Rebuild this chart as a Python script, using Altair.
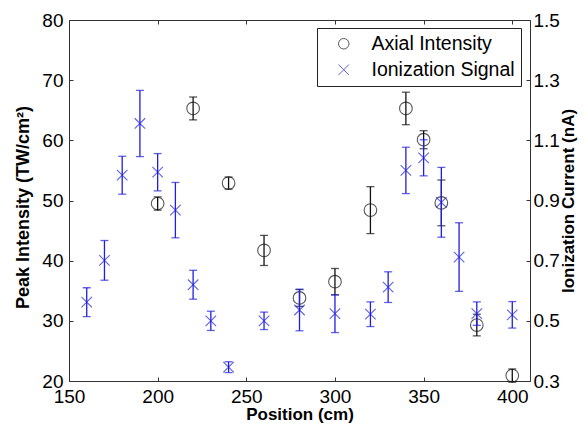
import altair as alt
import pandas as pd

# ---- data ----
axial_pos = [200, 220, 240, 260, 280, 300, 320, 340, 350, 360, 380, 400]
axial_val = [49.5, 65.3, 52.9, 41.7, 33.8, 36.5, 48.4, 65.3, 60.1, 49.6, 29.3, 20.9]
axial_err = [1.1, 1.9, 1.0, 2.5, 1.4, 2.2, 3.9, 2.7, 1.5, 3.8, 1.8, 1.1]

ion_pos = [160, 170, 180, 190, 200, 210, 220, 230, 240, 260, 280, 300, 320, 330, 340, 350, 360, 370, 380, 400]
ion_val = [0.562, 0.701, 0.984, 1.156, 0.994, 0.868, 0.620, 0.500, 0.346, 0.500,
           0.536, 0.524, 0.522, 0.612, 1.000, 1.042, 0.894, 0.712, 0.524, 0.520]
ion_err = [0.048, 0.066, 0.063, 0.110, 0.062, 0.092, 0.048, 0.032, 0.018, 0.029,
           0.069, 0.063, 0.041, 0.051, 0.077, 0.060, 0.116, 0.114, 0.039, 0.044]

x_ticks = [150, 200, 250, 300, 350, 400]
left_ticks = [20, 30, 40, 50, 60, 70, 80]
right_ticks = [0.3, 0.5, 0.7, 0.9, 1.1, 1.3, 1.5]
series = ["Axial Intensity", "Ionization Signal"]

BLACK = "#111111"
BLUE = "#1f1fdd"
FONT = "Liberation Sans"

axial = pd.DataFrame({
    "pos": axial_pos,
    "val": axial_val,
    "lo": [v - e for v, e in zip(axial_val, axial_err)],
    "hi": [v + e for v, e in zip(axial_val, axial_err)],
    "series": series[0],
})
ion = pd.DataFrame({
    "pos": ion_pos,
    "val": ion_val,
    "lo": [v - e for v, e in zip(ion_val, ion_err)],
    "hi": [v + e for v, e in zip(ion_val, ion_err)],
    "series": series[1],
})

xscale = alt.Scale(domain=[150, 410], nice=False, zero=False)
yl_scale = alt.Scale(domain=[20, 80], nice=False, zero=False)
yr_scale = alt.Scale(domain=[0.3, 1.5], nice=False, zero=False)
color_scale = alt.Scale(domain=series, range=[BLACK, BLUE])
shape_scale = alt.Scale(domain=series, range=["circle", "M-1,-1L1,1M-1,1L1,-1"])

legend = alt.Legend(
    orient="none", legendX=248, legendY=8, title=None,
    strokeColor="#222222", fillColor="white", padding=6,
    symbolOffset=11, labelOffset=18, labelFontSize=19.5, labelFont=FONT,
    symbolSize=110, symbolStrokeWidth=1, rowPadding=5, cornerRadius=0,
    labelColor="black",
)

ax_bottom = alt.Axis(
    orient="bottom", values=x_ticks, offset=-4, tickSize=4, domain=False,
    labelPadding=6, labelFlush=False, labelOverlap=False,
    title="Position (cm)", titlePadding=0, titleFontSize=17, grid=False)
ax_top = alt.Axis(
    orient="top", values=x_ticks, offset=-4, tickSize=4, domain=False,
    labels=False, title=None, grid=False)
ax_left = alt.Axis(
    orient="left", values=left_ticks, offset=-4, tickSize=4, domain=False,
    labelPadding=6, labelFlush=False, title="Peak Intensity (TW/cm²)",
    titlePadding=9, titleY=187, grid=False)
ax_right = alt.Axis(
    orient="right", values=right_ticks, format=".1f", offset=-4, tickSize=4,
    domain=False, labelPadding=3, labelFlush=False,
    title="Ionization Current (nA)", titleFontSize=17,
    titleAngle=270, titleBaseline="top", titlePadding=1, grid=False)


def group(df, yscale, xaxis, yaxis, col, size):
    x = alt.X("pos:Q", scale=xscale, axis=xaxis)
    pts = alt.Chart(df).mark_point(filled=False, size=size, strokeWidth=1.1).encode(
        x=x,
        y=alt.Y("val:Q", scale=yscale, axis=yaxis),
        color=alt.Color("series:N", scale=color_scale, legend=legend),
        shape=alt.Shape("series:N", scale=shape_scale, legend=legend),
    )
    rule = alt.Chart(df).mark_rule(color=col, strokeWidth=1.3).encode(
        x=x, y=alt.Y("lo:Q", scale=yscale, axis=yaxis), y2="hi:Q")
    cap_lo = alt.Chart(df).mark_tick(orient="horizontal", size=8, thickness=1.3, color=col).encode(
        x=x, y=alt.Y("lo:Q", scale=yscale, axis=yaxis))
    cap_hi = alt.Chart(df).mark_tick(orient="horizontal", size=8, thickness=1.3, color=col).encode(
        x=x, y=alt.Y("hi:Q", scale=yscale, axis=yaxis))
    return alt.layer(rule, cap_lo, cap_hi, pts)


left = group(axial, yl_scale, ax_bottom, ax_left, BLACK, 160)
right = group(ion, yr_scale, ax_top, ax_right, BLUE, 110)

chart = alt.layer(left, right).resolve_scale(
    y="independent"
).resolve_axis(
    x="independent", y="independent"
).properties(
    width=461, height=361,
    autosize=alt.AutoSizeParams(type="none"),
    padding={"left": 61, "top": 12, "right": 50, "bottom": 42},
    background="white",
).configure_view(
    stroke="#333333", strokeWidth=1
).configure_axis(
    labelFont=FONT, labelFontSize=19, labelColor="black",
    tickColor="#333333", tickWidth=1,
    titleFont=FONT, titleFontSize=18, titleFontWeight="bold", titleColor="black",
)

chart.save("out.html", embed_options={"renderer": "svg", "actions": False})
